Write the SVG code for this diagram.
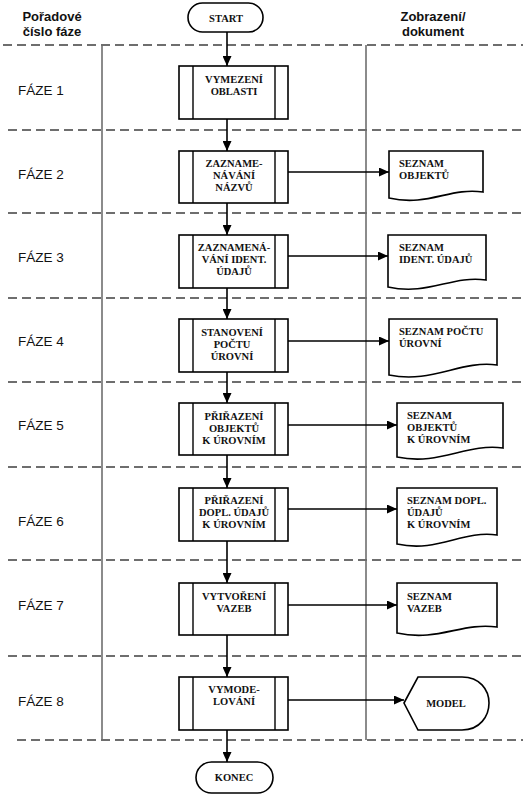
<svg xmlns="http://www.w3.org/2000/svg" width="523" height="800" viewBox="0 0 523 800">
<defs>
<marker id="ah" markerUnits="userSpaceOnUse" markerWidth="10" markerHeight="9" refX="10" refY="4.5" orient="auto"><path d="M0,0 L10,4.5 L0,9 Z" fill="#000"/></marker>
<style>
.dash{stroke:#6e6e6e;stroke-width:2;stroke-dasharray:9 5;fill:none}
.vl{stroke:#6e6e6e;stroke-width:1.6;fill:none}
.hd{font-family:"Liberation Sans",Arial,sans-serif;font-weight:bold;font-size:13px;fill:#111;text-anchor:middle}
.ph{font-family:"Liberation Sans",Arial,sans-serif;font-size:13.5px;fill:#111}
.sh{fill:#fff;stroke:#000;stroke-width:1.6}
.bar{stroke:#000;stroke-width:1.4;fill:none}
.t{font-family:"Liberation Serif","Times New Roman",serif;font-weight:bold;font-size:10.5px;fill:#111}
.c{text-anchor:middle}
.cn{stroke:#000;stroke-width:1.6;fill:none;marker-end:url(#ah)}
</style>
</defs>
<rect width="523" height="800" fill="#fff"/>
<g id="lanes">
<line class="dash" x1="3" y1="45" x2="523" y2="45"/>
<line class="dash" x1="8" y1="130" x2="523" y2="130"/>
<line class="dash" x1="8" y1="213" x2="523" y2="213"/>
<line class="dash" x1="8" y1="298" x2="523" y2="298"/>
<line class="dash" x1="8" y1="382" x2="523" y2="382"/>
<line class="dash" x1="8" y1="467" x2="523" y2="467"/>
<line class="dash" x1="8" y1="560" x2="523" y2="560"/>
<line class="dash" x1="8" y1="656" x2="523" y2="656"/>
<line class="dash" x1="17" y1="740" x2="523" y2="740"/>
<line class="vl" x1="102" y1="45" x2="102" y2="740"/>
<line class="vl" x1="366" y1="45" x2="366" y2="740"/>
</g>
<g id="headers">
<text class="hd" x="52" y="21">Pořadové</text>
<text class="hd" x="52" y="36">číslo fáze</text>
<text class="hd" x="433" y="21">Zobrazení/</text>
<text class="hd" x="433" y="36">dokument</text>
</g>
<g id="phases">
<text class="ph" x="18" y="95">FÁZE 1</text>
<text class="ph" x="18" y="179">FÁZE 2</text>
<text class="ph" x="18" y="262">FÁZE 3</text>
<text class="ph" x="18" y="346">FÁZE 4</text>
<text class="ph" x="18" y="430">FÁZE 5</text>
<text class="ph" x="18" y="526">FÁZE 6</text>
<text class="ph" x="18" y="610">FÁZE 7</text>
<text class="ph" x="18" y="706">FÁZE 8</text>
</g>
<g id="connectors">
<line class="cn" x1="227" y1="32" x2="227" y2="66"/>
<line class="cn" x1="227" y1="119" x2="227" y2="151"/>
<line class="cn" x1="227" y1="203" x2="227" y2="235"/>
<line class="cn" x1="227" y1="288" x2="227" y2="319"/>
<line class="cn" x1="227" y1="372" x2="227" y2="403"/>
<line class="cn" x1="227" y1="455" x2="227" y2="488"/>
<line class="cn" x1="227" y1="541" x2="227" y2="583"/>
<line class="cn" x1="227" y1="635" x2="227" y2="677"/>
<line class="cn" x1="227" y1="730" x2="227" y2="762"/>
<line class="cn" x1="288" y1="172" x2="389" y2="172"/>
<line class="cn" x1="288" y1="256" x2="388" y2="256"/>
<line class="cn" x1="288" y1="341" x2="389" y2="341"/>
<line class="cn" x1="288" y1="425" x2="397" y2="425"/>
<line class="cn" x1="288" y1="509" x2="397" y2="509"/>
<line class="cn" x1="288" y1="605" x2="397" y2="605"/>
<line class="cn" x1="288" y1="700" x2="404" y2="700"/>
</g>
<g id="start">
<rect class="sh" x="188" y="3" width="75" height="29" rx="14.5"/>
<text class="t c" x="226" y="22">START</text>
</g>
<g id="p1">
<rect class="sh" x="179" y="66" width="109" height="53"/>
<path class="bar" d="M193,66V119M275,66V119"/>
<text class="t c" x="234" y="83">VYMEZENÍ</text>
<text class="t c" x="234" y="95">OBLASTI</text>
</g>
<g id="p2">
<rect class="sh" x="179" y="151" width="109" height="52"/>
<path class="bar" d="M193,151V203M275,151V203"/>
<text class="t c" x="234" y="167">ZAZNAME-</text>
<text class="t c" x="234" y="179">NÁVÁNÍ</text>
<text class="t c" x="234" y="191">NÁZVŮ</text>
</g>
<g id="p3">
<rect class="sh" x="179" y="235" width="109" height="53"/>
<path class="bar" d="M193,235V288M275,235V288"/>
<text class="t c" x="234" y="251">ZAZNAMENÁ-</text>
<text class="t c" x="234" y="263">VÁNÍ IDENT.</text>
<text class="t c" x="234" y="275">ÚDAJŮ</text>
</g>
<g id="p4">
<rect class="sh" x="179" y="319" width="109" height="53"/>
<path class="bar" d="M193,319V372M275,319V372"/>
<text class="t c" x="232" y="336">STANOVENÍ</text>
<text class="t c" x="232" y="348">POČTU</text>
<text class="t c" x="232" y="360">ÚROVNÍ</text>
</g>
<g id="p5">
<rect class="sh" x="179" y="403" width="109" height="52"/>
<path class="bar" d="M193,403V455M275,403V455"/>
<text class="t c" x="234" y="420">PŘIŘAZENÍ</text>
<text class="t c" x="234" y="432">OBJEKTŮ</text>
<text class="t c" x="234" y="444">K ÚROVNÍM</text>
</g>
<g id="p6">
<rect class="sh" x="179" y="488" width="109" height="53"/>
<path class="bar" d="M193,488V541M275,488V541"/>
<text class="t c" x="234" y="504">PŘIŘAZENÍ</text>
<text class="t c" x="234" y="516">DOPL. ÚDAJŮ</text>
<text class="t c" x="234" y="528">K ÚROVNÍM</text>
</g>
<g id="p7">
<rect class="sh" x="179" y="583" width="109" height="52"/>
<path class="bar" d="M193,583V635M275,583V635"/>
<text class="t c" x="234" y="600">VYTVOŘENÍ</text>
<text class="t c" x="234" y="612">VAZEB</text>
</g>
<g id="p8">
<rect class="sh" x="179" y="677" width="109" height="53"/>
<path class="bar" d="M193,677V730M275,677V730"/>
<text class="t c" x="234" y="693">VYMODE-</text>
<text class="t c" x="234" y="705">LOVÁNÍ</text>
</g>
<g id="konec">
<rect class="sh" x="196" y="762" width="77" height="31" rx="15.5"/>
<text class="t c" x="234" y="781">KONEC</text>
</g>
<g id="d2">
<path class="sh" d="M389,151H483V192C450,187 428,207 389,198Z"/>
<text class="t" x="399" y="167">SEZNAM</text>
<text class="t" x="399" y="179">OBJEKTŮ</text>
</g>
<g id="d3">
<path class="sh" d="M388,235H486V280C452,275 428,296 388,287Z"/>
<text class="t" x="399" y="251">SEZNAM</text>
<text class="t" x="399" y="263">IDENT. ÚDAJŮ</text>
</g>
<g id="d4">
<path class="sh" d="M389,319H497V365C460,360 432,384 389,375Z"/>
<text class="t" x="399" y="335">SEZNAM POČTU</text>
<text class="t" x="399" y="347">ÚROVNÍ</text>
</g>
<g id="d5">
<path class="sh" d="M397,403H503V448C466,443 440,466 397,457Z"/>
<text class="t" x="407" y="419">SEZNAM</text>
<text class="t" x="407" y="431">OBJEKTŮ</text>
<text class="t" x="407" y="443">K ÚROVNÍM</text>
</g>
<g id="d6">
<path class="sh" d="M397,488H497V535C462,530 438,553 397,544Z"/>
<text class="t" x="407" y="504">SEZNAM DOPL.</text>
<text class="t" x="407" y="516">ÚDAJŮ</text>
<text class="t" x="407" y="528">K ÚROVNÍM</text>
</g>
<g id="d7">
<path class="sh" d="M397,583H497V627C462,622 438,642 397,633Z"/>
<text class="t" x="407" y="600">SEZNAM</text>
<text class="t" x="407" y="612">VAZEB</text>
</g>
<g id="model">
<path class="sh" d="M404,703L418,677H462C480,677 489,690 489,703C489,716 480,730 462,730H418Z"/>
<text class="t c" x="446" y="707">MODEL</text>
</g>
</svg>
